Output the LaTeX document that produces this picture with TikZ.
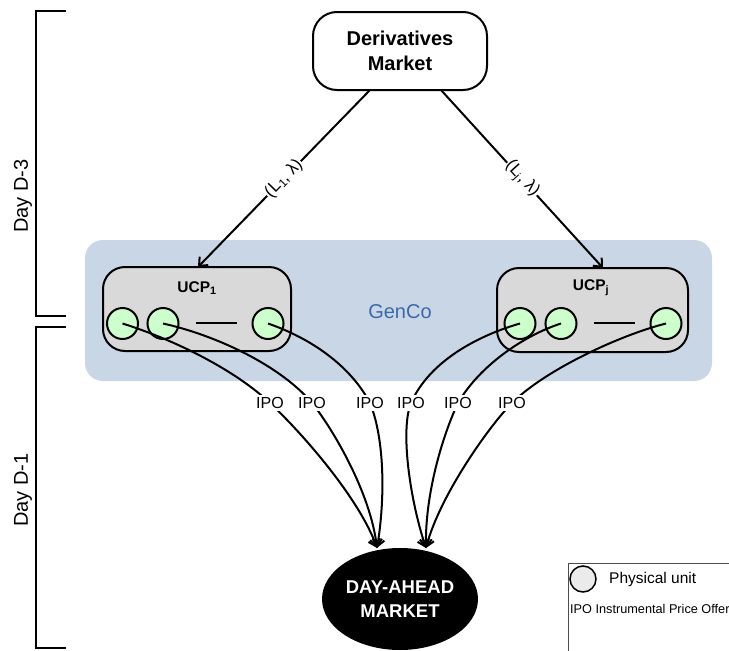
\documentclass[tikz,border=0pt]{standalone}
\usepackage{fontspec}
\setmainfont{Liberation Sans}
\usetikzlibrary{shapes.geometric,arrows.meta}
\definecolor{gencobg}{RGB}{200,214,230}
\definecolor{gencotx}{RGB}{60,105,170}
\definecolor{ucpfill}{RGB}{217,217,217}
\definecolor{unitfill}{RGB}{204,255,204}
\definecolor{legfill}{RGB}{235,235,235}
\begin{document}
\begin{tikzpicture}[x=1pt,y=-1pt,
  thick line/.style={line width=2pt},
  roundbox/.style={draw, thick line, rounded corners=24pt, align=center},
  ucpbox/.style={draw, thick line, fill=ucpfill, rounded corners=22pt, minimum height=84pt},
  unit/.style={circle, draw, thick line, fill=unitfill, minimum size=31pt, inner sep=0pt},
  conn/.style={thick line, -{Straight Barb[length=7pt,width=12pt]}},
  curv/.style={thick line},
  lbl/.style={fill=white, inner sep=1pt, font=\fontsize{17}{19}\selectfont},
  ipo/.style={fill=white, inner sep=2pt, font=\fontsize{16}{18}\selectfont},
  brk/.style={line width=1.8pt},
  daylbl/.style={rotate=90, font=\fontsize{20}{22}\selectfont}]
\clip (0,0) rectangle (729,651);
% brackets
\draw[brk] (66,11) -- (36,11) -- (36,316) -- (66,316);
\draw[brk] (66,327) -- (36,327) -- (36,648) -- (66,648);
\node[daylbl] (d3) at (23,196) {Day D-3};
\node[daylbl] (d1) at (23,490) {Day D-1};
% GenCo region
\node[fill=gencobg, rounded corners=18pt, minimum width=627pt, minimum height=141pt] (genco) at (398.5,310.5) {};
\node[text=gencotx, font=\fontsize{20}{24}\selectfont] (gencolbl) at (400,312) {GenCo};
% derivatives market
\node[roundbox, minimum width=174pt, minimum height=78pt, font=\bfseries\fontsize{20}{25}\selectfont] (dm) at (400,51) {Derivatives\\Market};
% UCP boxes
\node[ucpbox, minimum width=188pt] (ucp1) at (197,309) {};
\node[ucpbox, minimum width=191pt] (ucpj) at (592.5,310) {};
\node[font=\bfseries\fontsize{15.5}{18}\selectfont] (ucp1lbl) at (197,288) {UCP\textsubscript{1}};
\node[font=\bfseries\fontsize{15.5}{18}\selectfont] (ucpjlbl) at (591,288) {UCP\textsubscript{j}};
% units
\node[unit] (u1) at (122.5,323.5) {};
\node[unit] (u2) at (163,323.5) {};
\node[unit] (u3) at (268,323.5) {};
\node[unit] (u4) at (520,323.5) {};
\node[unit] (u5) at (561,323.5) {};
\node[unit] (u6) at (666,323.5) {};
\coordinate (dash1a) at (196,323); \coordinate (dash1b) at (237,323);
\coordinate (dash2a) at (594,323); \coordinate (dash2b) at (635,323);
\draw[thick line] (dash1a) -- (dash1b);
\draw[thick line] (dash2a) -- (dash2b);
% derivatives arrows
\coordinate (a1) at (370,90);
\coordinate (b1) at (198,267);
\coordinate (a2) at (441,90);
\coordinate (b2) at (603,268);
\draw[conn] (a1) -- node[lbl, sloped] {(L\textsubscript{1}, λ)} (b1);
\draw[conn] (a2) -- node[lbl, sloped] {(L\textsubscript{j}, λ)} (b2);
% day-ahead market
\node[ellipse, fill=black, text=white, minimum width=156pt, minimum height=102pt, align=center, inner sep=0pt, font=\bfseries\fontsize{18.5}{24}\selectfont] (dam) at (400,599) {DAY-AHEAD\\MARKET};
\coordinate (t1) at (377,548);
\coordinate (t2) at (426,548);
% IPO positions
\coordinate (p1) at (270,403);
\coordinate (p2) at (312,403);
\coordinate (p3) at (370,403);
\coordinate (p4) at (411,403);
\coordinate (p5) at (458,403);
\coordinate (p6) at (512,403);
% curves
\draw[curv] (u1.center) .. controls (175,340) and (235,370) .. (p1);
\draw[conn] (p1) .. controls (305,436) and (360,500) .. (t1);
\draw[curv] (u2.center) .. controls (215,335) and (280,365) .. (p2);
\draw[conn] (p2) .. controls (330,425) and (370,490) .. (t1);
\draw[curv] (u3.center) .. controls (310,338) and (350,365) .. (p3);
\draw[conn] (p3) .. controls (385,440) and (385,500) .. (t1);
\draw[curv] (u4.center) .. controls (480,335) and (430,360) .. (p4);
\draw[conn] (p4) .. controls (400,430) and (410,500) .. (t2);
\draw[curv] (u5.center) .. controls (525,335) and (480,365) .. (p5);
\draw[conn] (p5) .. controls (445,430) and (425,490) .. (t2);
\draw[curv] (u6.center) .. controls (620,335) and (545,370) .. (p6);
\draw[conn] (p6) .. controls (490,425) and (440,495) .. (t2);
% IPO labels
\foreach \i in {1,...,6} {\node[ipo] (ipo\i) at (p\i) {IPO};}
% legend
\node[draw=black!70, line width=1pt, minimum width=200pt, minimum height=110pt, anchor=north west] (leg) at (568,563) {};
\node[circle, draw, line width=1.5pt, fill=legfill, minimum size=26pt, inner sep=0pt] (legc) at (583,579) {};
\node[anchor=west, inner sep=0pt, font=\fontsize{15.5}{18}\selectfont] (legt1) at (609,579) {Physical unit};
\node[anchor=west, inner sep=0pt, font=\fontsize{12.7}{15}\selectfont] (legt2) at (570,609) {IPO Instrumental Price Offer};
\end{tikzpicture}
\end{document}
